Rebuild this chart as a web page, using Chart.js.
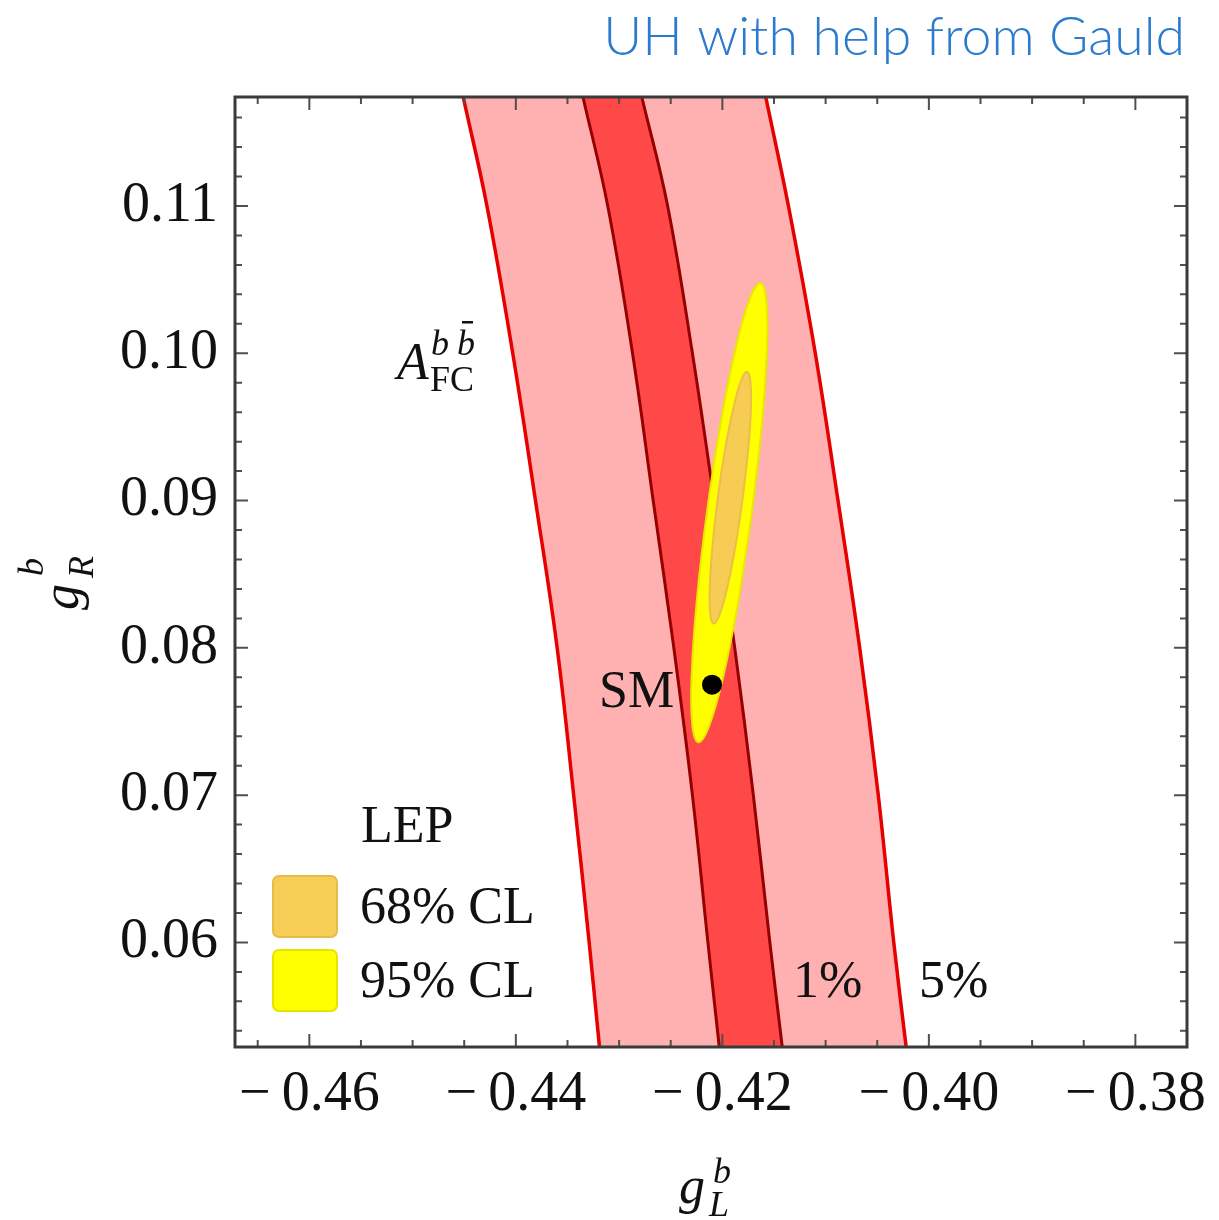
<!DOCTYPE html>
<html><head><meta charset="utf-8">
<script src="https://cdn.jsdelivr.net/npm/chart.js@4/dist/chart.umd.min.js"></script>
<style>html,body{margin:0;padding:0;background:#fff;} #wrap{width:1219px;height:1220px;position:relative;}</style>
</head><body><div id="wrap"><canvas id="c" width="1219" height="1220"></canvas></div>
<script>
// ---- data ----
const yLevels     = [0.1174, 0.110, 0.100, 0.090, 0.080, 0.070, 0.060, 0.0529];
const outerLeftX  = [-0.4451, -0.4428, -0.4403, -0.4381, -0.4360, -0.4344, -0.4329, -0.4319];
const innerLeftX  = [-0.4335, -0.4311, -0.4287, -0.4267, -0.4247, -0.4229, -0.4214, -0.4203];
const innerRightX = [-0.4278, -0.4253, -0.4229, -0.4208, -0.4188, -0.4170, -0.4154, -0.4142];
const outerRightX = [-0.4158, -0.4136, -0.4110, -0.4088, -0.4067, -0.4049, -0.4034, -0.4022];

const ell95X = [-0.41718,-0.41849,-0.41993,-0.42128,-0.42233,-0.42292,-0.42296,-0.42245,-0.42146,-0.42015,-0.41871,-0.41737,-0.41632,-0.41573,-0.41569,-0.41620,-0.41718];
const ell95Y = [0.08897,0.08302,0.07801,0.07470,0.07359,0.07485,0.07830,0.08340,0.08938,0.09533,0.10034,0.10366,0.10477,0.10350,0.10006,0.09495,0.08897];
const ell68X = [-0.41804,-0.41875,-0.41953,-0.42027,-0.42084,-0.42118,-0.42121,-0.42094,-0.42042,-0.41971,-0.41892,-0.41819,-0.41761,-0.41728,-0.41724,-0.41751,-0.41804];
const ell68Y = [0.09008,0.08682,0.08407,0.08226,0.08165,0.08234,0.08423,0.08703,0.09031,0.09357,0.09632,0.09813,0.09874,0.09805,0.09616,0.09336,0.09008];

const smPoint = {x: -0.4210, y: 0.0775};

const xRange = [-0.4672, -0.3750];
const yRange = [0.0529, 0.1174];
const xMajorTicks = [-0.46, -0.44, -0.42, -0.40, -0.38];
const xMinorTicks = [-0.465,-0.455,-0.45,-0.445,-0.435,-0.43,-0.425,-0.415,-0.41,-0.405,-0.395,-0.39,-0.385];
const yMajorTicks = [0.06, 0.07, 0.08, 0.09, 0.10, 0.11];
const yMinorTicks = [0.054,0.056,0.058,0.062,0.064,0.066,0.068,0.072,0.074,0.076,0.078,0.082,0.084,0.086,0.088,0.092,0.094,0.096,0.098,0.102,0.104,0.106,0.108,0.112,0.114,0.116];

// ---- helpers ----
const TENSION = 0.4;
const zip = (xs, ys) => xs.map((x, i) => ({x, y: ys[i]}));
const curve = xs => zip(xs, yLevels);
// closed band outline; corner points are doubled so the spline edges match the boundary lines
const band = (l, r) => {
  const a = curve(l), b = curve(r).reverse();
  return a.concat([a[a.length - 1], b[0]], b, [b[b.length - 1], a[0]]);
};

const SERIF = "'Liberation Serif', 'DejaVu Serif', serif";
const fmt = v => (v < 0 ? '\u2212\u2009' : '') + Math.abs(v).toFixed(2);

const decor = {
  id: 'decor',
  afterDatasetsDraw(chart) {
    const ctx = chart.ctx, a = chart.chartArea, xs = chart.scales.x, ys = chart.scales.y;
    ctx.save();
    ctx.strokeStyle = '#505050'; ctx.lineWidth = 2;
    const xt = (v, L) => { const p = xs.getPixelForValue(v);
      ctx.beginPath(); ctx.moveTo(p, a.bottom); ctx.lineTo(p, a.bottom - L);
      ctx.moveTo(p, a.top); ctx.lineTo(p, a.top + L); ctx.stroke(); };
    const yt = (v, L) => { const p = ys.getPixelForValue(v);
      ctx.beginPath(); ctx.moveTo(a.left, p); ctx.lineTo(a.left + L, p);
      ctx.moveTo(a.right, p); ctx.lineTo(a.right - L, p); ctx.stroke(); };
    xMajorTicks.forEach(v => xt(v, 13)); xMinorTicks.forEach(v => xt(v, 7));
    yMajorTicks.forEach(v => yt(v, 13)); yMinorTicks.forEach(v => yt(v, 7));
    ctx.strokeStyle = '#3a3a3a'; ctx.lineWidth = 3;
    ctx.strokeRect(a.left, a.top, a.right - a.left, a.bottom - a.top);
    ctx.restore();
  },
  afterDraw(chart) {
    const ctx = chart.ctx;
    ctx.save();
    ctx.fillStyle = '#111'; ctx.textAlign = 'left'; ctx.textBaseline = 'alphabetic';
    const t = (s, x, y, f) => { ctx.font = f; ctx.fillText(s, x, y); };
    const R52 = '52px ' + SERIF, I52 = 'italic 52px ' + SERIF, I36 = 'italic 36px ' + SERIF, R36 = '36px ' + SERIF;
    // A_FC^{b bbar}
    t('A', 397, 379, I52);
    t('b', 431, 355, I36);
    t('b', 457, 355, I36);
    ctx.fillRect(462, 321, 11, 2.5);
    t('FC', 430, 391, R36);
    // SM, 1%, 5%
    t('SM', 599, 707, R52);
    t('1%', 793, 997, R52);
    t('5%', 919, 997, R52);
    // legend
    t('LEP', 361, 842, R52);
    t('68% CL', 360, 923, R52);
    t('95% CL', 360, 997, R52);
    ctx.lineWidth = 2;
    ctx.fillStyle = 'rgb(246,206,86)'; ctx.strokeStyle = 'rgb(232,186,72)';
    ctx.beginPath(); ctx.roundRect(273, 876, 64, 61, 6); ctx.fill(); ctx.stroke();
    ctx.fillStyle = 'rgb(255,255,0)'; ctx.strokeStyle = 'rgb(228,228,0)';
    ctx.beginPath(); ctx.roundRect(273, 950, 64, 61, 6); ctx.fill(); ctx.stroke();
    // axis titles
    ctx.fillStyle = '#111';
    t('g', 679, 1203, I52);
    t('b', 713, 1183, I36);
    t('L', 709, 1216, I36);
    ctx.save();
    ctx.translate(78, 610); ctx.rotate(-Math.PI / 2);
    t('g', 0, 0, I52);
    t('b', 34, -35, I36);
    t('R', 32, 15, I36);
    ctx.restore();
    // blue header
    ctx.fillStyle = 'rgb(42,122,206)';
    ctx.textAlign = 'right';
    ctx.font = "300 52px Lato, 'Liberation Sans', sans-serif";
    const s = 'UH with help from Gauld';
    let w = ctx.measureText(s).width, fs = 52 * 582 / w;
    ctx.font = "300 " + fs.toFixed(1) + "px Lato, 'Liberation Sans', sans-serif";
    ctx.fillText(s, 1185, 55);
    ctx.restore();
  }
};

const lineDS = (data, color, width, order) => ({
  data, showLine: true, fill: false, borderColor: color, borderWidth: width,
  pointRadius: 0, tension: TENSION, order
});
const bandDS = (data, color, order) => ({
  data, showLine: true, fill: 'shape', backgroundColor: color, borderWidth: 0,
  borderColor: 'rgba(0,0,0,0)', pointRadius: 0, tension: TENSION, order
});

new Chart(document.getElementById('c'), {
  type: 'scatter',
  data: { datasets: [
    { data: [smPoint], pointRadius: 10, pointBackgroundColor: '#000', pointBorderWidth: 0, showLine: false, order: 0 },
    { data: zip(ell68X, ell68Y), showLine: true, fill: 'shape', backgroundColor: 'rgb(246,204,84)', borderColor: 'rgb(236,190,72)', borderWidth: 2, pointRadius: 0, tension: 0.4, order: 1 },
    { data: zip(ell95X, ell95Y), showLine: true, fill: 'shape', backgroundColor: 'rgb(255,255,0)', borderColor: 'rgb(232,232,0)', borderWidth: 2, pointRadius: 0, tension: 0.4, order: 2 },
    lineDS(curve(innerLeftX), 'rgb(150,0,0)', 3, 3),
    lineDS(curve(innerRightX), 'rgb(150,0,0)', 3, 3),
    lineDS(curve(outerLeftX), 'rgb(230,0,0)', 3.5, 4),
    lineDS(curve(outerRightX), 'rgb(230,0,0)', 3.5, 4),
    bandDS(band(innerLeftX, innerRightX), 'rgb(255,72,72)', 5),
    bandDS(band(outerLeftX, outerRightX), 'rgb(255,176,176)', 6)
  ]},
  options: {
    responsive: false, animation: false, events: [],
    layout: { padding: { top: 97, right: 32, left: 0, bottom: 0 } },
    plugins: { legend: { display: false }, tooltip: { enabled: false }, title: { display: false } },
    scales: {
      x: {
        type: 'linear', min: xRange[0], max: xRange[1],
        grid: { display: false, drawTicks: false }, border: { display: false },
        afterBuildTicks: s => { s.ticks = xMajorTicks.map(v => ({value: v})); },
        afterFit: s => { s.height = 173; s.paddingLeft = 0; s.paddingRight = 0; },
        ticks: { autoSkip: false, maxRotation: 0, minRotation: 0, padding: 15, color: '#111',
          font: { family: SERIF, size: 56 }, callback: v => fmt(v) }
      },
      y: {
        type: 'linear', min: yRange[0], max: yRange[1],
        grid: { display: false, drawTicks: false }, border: { display: false },
        afterBuildTicks: s => { s.ticks = yMajorTicks.map(v => ({value: v})); },
        afterFit: s => { s.width = 235; s.paddingTop = 0; s.paddingBottom = 0; },
        ticks: { autoSkip: false, padding: 17, color: '#111',
          font: { family: SERIF, size: 56 }, callback: v => fmt(v) }
      }
    }
  },
  plugins: [decor]
});
</script>
</body></html>
